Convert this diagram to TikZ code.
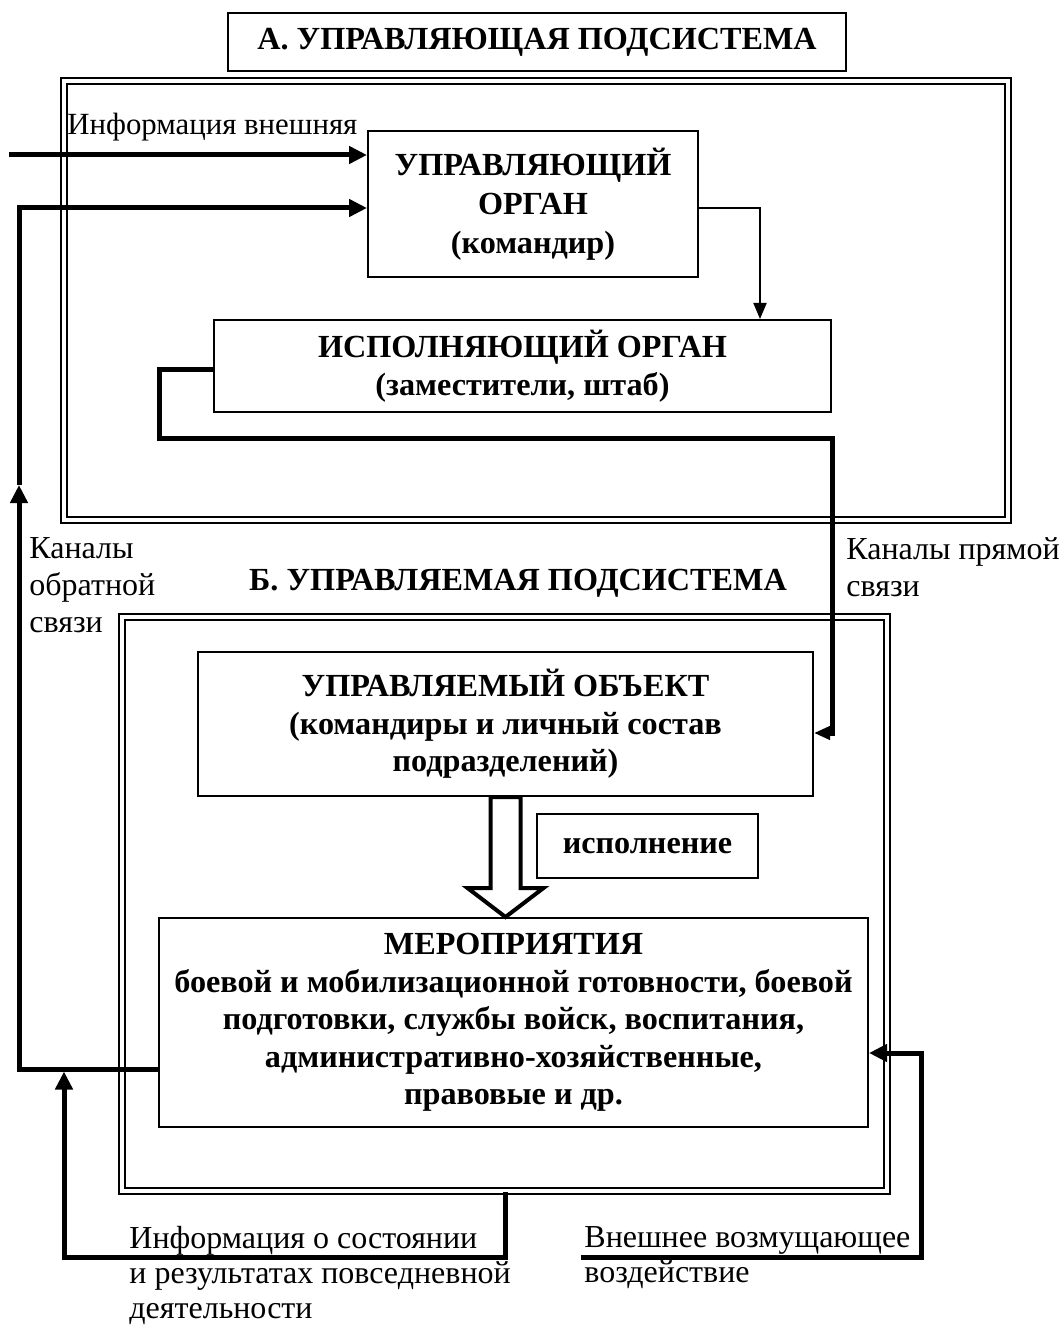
\documentclass[tikz,border=0pt]{standalone}
\usepackage{fontspec}
\setmainfont{Liberation Serif}
\usetikzlibrary{arrows.meta,calc}
\begin{document}
\begin{tikzpicture}[x=0.5pt,y=-0.5pt,
  box/.style={draw, line width=1pt, inner sep=0pt, align=center, fill=white,
    font=\bfseries\fontsize{16.1}{18.8}\selectfont},
  frame/.style={draw, line width=1pt, double, double distance=2pt, inner sep=0pt},
  lbl/.style={inner sep=0pt, align=left, font=\fontsize{16}{18.5}\selectfont},
  fat/.style={line width=2.5pt, line join=miter},
  fatarrow/.style={fat, -{Triangle[length=9pt,width=8.5pt]}},
  smallfatarrow/.style={fat, -{Triangle[length=8pt,width=6.5pt]}},
  thinarrow/.style={line width=1pt, -{Triangle[length=8pt,width=6.5pt]}},
  hollow/.style={line width=2pt, line join=miter, fill=white}
]
\useasboundingbox (0,0) rectangle (1059,1325);

% frames
\node[frame, minimum width=471.75pt, minimum height=219.25pt] (frameA) at (535.75,300.25) {};
\node[frame, minimum width=382.5pt, minimum height=286.75pt] (frameB) at (504,903.75) {};

% titles
\node[box, minimum width=309pt, minimum height=29pt] (titleA) at (537,42) {А. УПРАВЛЯЮЩАЯ ПОДСИСТЕМА};
\node[inner sep=0pt, anchor=base, font=\bfseries\fontsize{16.1}{18.8}\selectfont] (titleB) at (518,590) {Б. УПРАВЛЯЕМАЯ ПОДСИСТЕМА};

% boxes
\node[box, minimum width=165pt, minimum height=73pt, font=\bfseries\fontsize{16.1}{19.5}\selectfont] (uo) at (533,204) {УПРАВЛЯЮЩИЙ\\ОРГАН\\(командир)};
\node[box, minimum width=308.5pt, minimum height=46pt] (io) at (522.5,366) {ИСПОЛНЯЮЩИЙ ОРГАН\\(заместители, штаб)};
\node[box, minimum width=307.5pt, minimum height=72pt] (obj) at (505.5,724) {УПРАВЛЯЕМЫЙ ОБЪЕКТ\\(командиры и личный состав\\подразделений)};
\node[box, minimum width=110.5pt, minimum height=32pt] (isp) at (647.5,846) {исполнение};
\node[box, minimum width=354.5pt, minimum height=104.5pt] (mer) at (513.5,1022.5) {МЕРОПРИЯТИЯ\\боевой и мобилизационной готовности, боевой\\подготовки, службы войск, воспитания,\\административно-хозяйственные,\\правовые и др.};

% labels
\node[lbl, anchor=base west, font=\fontsize{15.4}{18.5}\selectfont] (lInfo) at (67,135) {Информация внешняя};
\node[lbl, anchor=north west] (lFb) at (29,537) {Каналы\\обратной\\связи};
\node[lbl, anchor=north west] (lDir) at (846,537) {Каналы прямой\\связи};
\node[lbl, anchor=north west, font=\fontsize{16}{17.5}\selectfont] (lState) at (129,1226) {Информация о состоянии\\и результатах повседневной\\деятельности};
\node[lbl, anchor=north west, font=\fontsize{16}{17.5}\selectfont] (lExt) at (584,1226) {Внешнее возмущающее\\воздействие};

% coordinates
\coordinate (infoS) at (9,155);
\coordinate (fbBL) at (19,1069);
\coordinate (fbMid) at (19,485);
\coordinate (fbTL) at (19,208);
\coordinate (thinX) at (760,0);
\coordinate (dA) at (159,439);
\coordinate (dB) at (832,439);
\coordinate (dC) at (832,733);
\coordinate (bA) at (505,1257);
\coordinate (bB) at (64,1257);
\coordinate (eA) at (581,1257);
\coordinate (eB) at (921,1257);
\coordinate (eC) at (921,1053);

% connectors
\draw[fatarrow] (infoS) -- (infoS -| uo.west);
\draw[fatarrow] (mer.west |- fbBL) -- (fbBL) -- (fbMid);
\draw[fatarrow] (fbMid) -- (fbTL) -- (fbTL -| uo.west);
\draw[thinarrow] ([yshift=-2pt]uo.east) -- ([yshift=-2pt]uo.east -| thinX) -- (thinX |- io.north);
\draw[smallfatarrow] ([yshift=-2pt]io.west) -| (dA) -- (dB) -- (dC) -- (dC -| obj.east);
\draw[hollow] ($(obj.south)+(-15,0)$) -- ++(0,91) -- ++(-23,0) -- (obj.south |- mer.north) -- ($(obj.south)+(38,91)$) -- ++(-23,0) -- ++(0,-91) -- cycle;
\draw[fatarrow, shorten >=1.25pt] (frameB.south -| bA) -- (bA) -- (bB) -- (bB |- fbBL);
\draw[fatarrow] (eA) -- (eB) -- (eC) -- (eC -| mer.east);
\end{tikzpicture}
\end{document}
